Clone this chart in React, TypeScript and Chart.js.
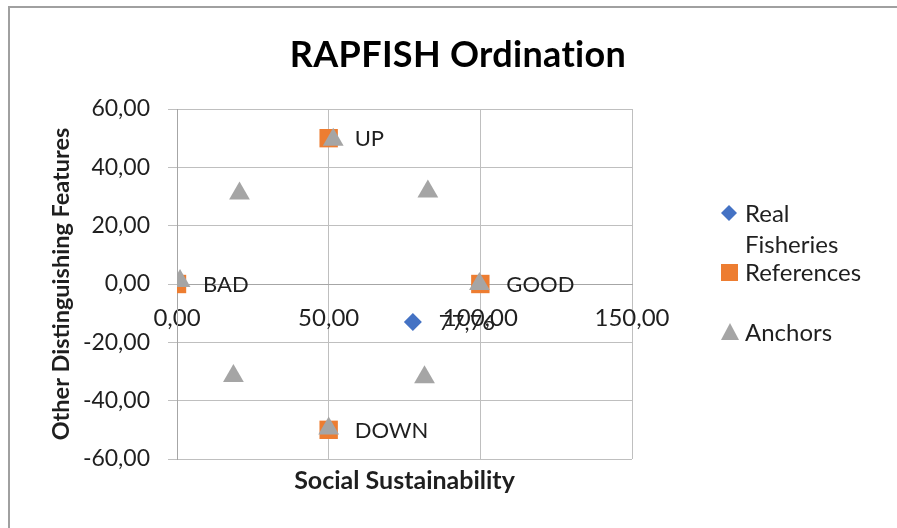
import React, { useEffect, useRef } from 'react';
import { Chart, registerables } from 'chart.js';

Chart.register(...registerables);

// ---- data ----
const xTickValues = [0, 50, 100, 150];
const yTickValues = [-60, -40, -20, 0, 20, 40, 60];

const realX = [77.76];
const realY = [-13];
const realLabels = ['77,76'];

const refX = [0, 100, 50, 50];
const refY = [0, 0, 50, -50];
const refLabels = ['BAD', 'GOOD', 'UP', 'DOWN'];

const anchorX = [1, 99.7, 51.5, 50, 20.6, 82.7, 18.6, 81.6];
const anchorY = [1, 0, 49.5, -49.5, 31, 31.7, -31.5, -32];

const seriesNames = ['Real Fisheries', 'References', 'Anchors'];
const BLUE = '#4472C4';
const ORANGE = '#ED7D31';
const GRAY = '#A5A5A5';
const TEXT = '#1f1f1f';
const FONT = 'Lato, "Open Sans", sans-serif';

const fmt = (v: number) => Number(v).toFixed(2).replace('.', ',');

const toPoints = (xs: number[], ys: number[]) => xs.map((x, i) => ({ x, y: ys[i] }));

const framePlugin = {
  id: 'frame',
  beforeDraw(chart: any) {
    const ctx = chart.ctx;
    ctx.save();
    ctx.fillStyle = '#ffffff';
    ctx.fillRect(0, 0, chart.width, chart.height);
    ctx.strokeStyle = '#A0A0A0';
    ctx.lineWidth = 2;
    ctx.beginPath();
    ctx.moveTo(9, chart.height);
    ctx.lineTo(9, 7);
    ctx.lineTo(chart.width, 7);
    ctx.stroke();
    ctx.restore();
  },
};

const labelsPlugin = {
  id: 'extras',
  afterDatasetsDraw(chart: any) {
    const ctx = chart.ctx;
    ctx.save();
    // point labels
    ctx.font = `22px ${FONT}`;
    ctx.fillStyle = TEXT;
    ctx.textBaseline = 'middle';
    ctx.textAlign = 'left';
    chart.data.datasets.forEach((ds: any, di: number) => {
      const labels: string[] | undefined = ds.pointLabels;
      if (!labels) return;
      const meta = chart.getDatasetMeta(di);
      meta.data.forEach((el: any, i: number) => {
        if (labels[i]) ctx.fillText(labels[i], el.x + 26, el.y + 1);
      });
    });
    // chart title
    ctx.font = `bold 36px ${FONT}`;
    ctx.textAlign = 'center';
    ctx.fillStyle = '#000';
    try { (ctx as any).letterSpacing = '0.3px'; } catch (e) {}
    ctx.fillText('RAPFISH Ordination', 458, 55);
    try { (ctx as any).letterSpacing = '0px'; } catch (e) {}
    // x axis title
    const ca = chart.chartArea;
    ctx.font = `bold 25px ${FONT}`;
    ctx.fillStyle = TEXT;
    ctx.fillText('Social Sustainability', (ca.left + ca.right) / 2, 481);
    // legend
    const lx = 729;
    ctx.font = `24px ${FONT}`;
    ctx.textAlign = 'left';
    // diamond
    ctx.fillStyle = BLUE;
    ctx.beginPath();
    ctx.moveTo(lx, 205);
    ctx.lineTo(lx + 8, 213);
    ctx.lineTo(lx, 221);
    ctx.lineTo(lx - 8, 213);
    ctx.closePath();
    ctx.fill();
    ctx.fillStyle = TEXT;
    ctx.fillText('Real', 745, 214);
    ctx.fillText('Fisheries', 745, 245);
    // square
    ctx.fillStyle = ORANGE;
    ctx.fillRect(lx - 8, 264, 17, 17);
    ctx.fillStyle = TEXT;
    ctx.fillText(seriesNames[1], 745, 273);
    // triangle
    ctx.fillStyle = GRAY;
    ctx.beginPath();
    ctx.moveTo(lx + 1, 323);
    ctx.lineTo(lx + 10, 340);
    ctx.lineTo(lx - 8, 340);
    ctx.closePath();
    ctx.fill();
    ctx.fillStyle = TEXT;
    ctx.fillText(seriesNames[2], 745, 333);
    ctx.restore();
  },
};

export default function App() {
  const ref = useRef<HTMLCanvasElement | null>(null);

  useEffect(() => {
    if (!ref.current) return;
    const chart = new Chart(ref.current, {
      type: 'scatter',
      data: {
        datasets: [
          {
            label: seriesNames[0],
            data: toPoints(realX, realY),
            pointStyle: 'rectRot',
            pointRadius: 9,
            backgroundColor: BLUE,
            borderColor: BLUE,
            borderWidth: 0,
            order: 2,
            pointLabels: realLabels,
          } as any,
          {
            label: seriesNames[1],
            data: toPoints(refX, refY),
            pointStyle: 'rect',
            pointRadius: 13,
            backgroundColor: ORANGE,
            borderColor: ORANGE,
            borderWidth: 0,
            order: 1,
            pointLabels: refLabels,
          } as any,
          {
            label: seriesNames[2],
            data: toPoints(anchorX, anchorY),
            pointStyle: 'triangle',
            pointRadius: 12,
            backgroundColor: GRAY,
            borderColor: GRAY,
            borderWidth: 0,
            order: 0,
          } as any,
        ],
      },
      options: {
        animation: false,
        responsive: false,
        devicePixelRatio: 1,
        layout: { padding: { left: 0, top: 109, right: 265, bottom: 69 } },
        plugins: {
          legend: { display: false },
          tooltip: { enabled: false },
          title: { display: false },
        },
        scales: {
          x: {
            type: 'linear',
            position: { y: 0 } as any,
            min: 0,
            max: 150,
            afterBuildTicks: (s: any) => {
              s.ticks = xTickValues.map((v) => ({ value: v }));
            },
            ticks: {
              font: { family: FONT, size: 24 },
              color: TEXT,
              padding: 20,
              maxRotation: 0,
              autoSkip: false,
              callback: (v: any) => fmt(v),
            },
            grid: { color: '#BFBFBF', drawTicks: false, lineWidth: 1 },
            border: { display: true, color: '#A6A6A6', width: 1 },
          },
          y: {
            type: 'linear',
            position: 'left',
            min: -60,
            max: 60,
            afterBuildTicks: (s: any) => {
              s.ticks = yTickValues.map((v) => ({ value: v }));
            },
            afterFit: (s: any) => {
              s.width = 177;
            },
            ticks: {
              font: { family: FONT, size: 23 },
              color: TEXT,
              padding: 18,
              callback: (v: any) => fmt(v),
            },
            grid: { color: '#BFBFBF', drawTicks: true, tickLength: 9, lineWidth: 1 },
            border: { display: true, color: '#A6A6A6', width: 1 },
            title: {
              display: true,
              text: 'Other Distinguishing Features',
              font: { family: FONT, size: 23.5, weight: 'bold' },
              color: TEXT,
              padding: { top: 47, bottom: 0 },
            },
          },
        },
      },
      plugins: [framePlugin, labelsPlugin],
    });
    return () => chart.destroy();
  }, []);

  return (
    <div style={{ position: 'absolute', left: 0, top: 0, width: 897, height: 528 }}>
      <canvas ref={ref} width={897} height={528} style={{ width: 897, height: 528 }} />
    </div>
  );
}
